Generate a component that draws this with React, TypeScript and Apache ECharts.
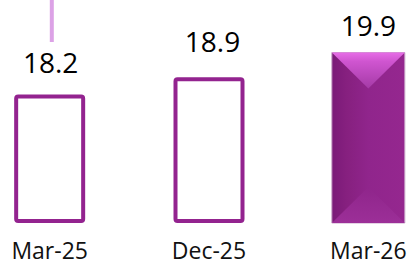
import React, { useEffect, useRef } from "react";
import * as echarts from "echarts";

const categories = ["Mar-25", "Dec-25", "Mar-26"];
const values = [18.2, 18.9, 19.9];
const labels = ["18.2", "18.9", "19.9"];

// styling only
const labelLift = [33, 36, 28];
const labelShiftX = [1, 3.5, 0];
const filledIndex = 2;
const OFFSET_X = -30.1;
const CHART_W = 477.75;

export default function App() {
  const ref = useRef<HTMLDivElement>(null);
  useEffect(() => {
    if (!ref.current) return;
    const chart = echarts.init(ref.current, null, { renderer: "svg" });
    const yMin = 13;
    chart.setOption({
      animation: false,
      backgroundColor: "#ffffff",
      grid: { left: 0, right: 0, top: 0, bottom: 40, containLabel: false },
      xAxis: {
        type: "category",
        data: categories,
        axisLine: { show: false },
        axisTick: { show: false },
        axisLabel: {
          color: "#111111",
          fontSize: 23,
          fontFamily: "Open Sans",
          margin: 15,
        },
      },
      yAxis: {
        type: "value",
        min: yMin,
        max: 22.03,
        show: false,
        splitLine: { show: false },
      },
      graphic: [
        {
          type: "line",
          shape: { x1: 51.7 - OFFSET_X, y1: 0, x2: 51.7 - OFFSET_X, y2: 42 },
          style: { stroke: "#dca2e6", lineWidth: 4 },
        },
      ],
      series: [
        {
          type: "custom",
          data: values.map((v, i) => [i, v]),
          renderItem: (params: any, api: any) => {
            const i = params.dataIndex;
            const top = api.coord([api.value(0), api.value(1)]);
            const base = api.coord([api.value(0), yMin]);
            const cx = top[0];
            const ty = top[1];
            const by = base[1];
            const children: any[] = [];
            if (i === filledIndex) {
              const w = 73;
              const x0 = cx - w / 2;
              const x1 = cx + w / 2;
              const h = by - ty;
              const bev = 36;
              children.push({
                type: "rect",
                shape: { x: x0, y: ty, width: w, height: h },
                style: {
                  fill: new echarts.graphic.LinearGradient(0, 0, 1, 0, [
                    { offset: 0, color: "#7a1a78" },
                    { offset: 0.2, color: "#86207f" },
                    { offset: 0.5, color: "#90258c" },
                    { offset: 1, color: "#95278f" },
                  ]),
                  stroke: "#c9a6c9",
                  lineWidth: 1,
                },
              });
              children.push({
                type: "polygon",
                shape: { points: [[x0, ty], [x1, ty], [cx, ty + bev]] },
                style: {
                  fill: new echarts.graphic.LinearGradient(0, 0, 0, 1, [
                    { offset: 0, color: "#e66de6" },
                    { offset: 0.25, color: "#cf55d0" },
                    { offset: 1, color: "#a43aa6" },
                  ]),
                },
              });
              children.push({
                type: "polygon",
                shape: { points: [[x0, by], [x1, by], [cx, by - bev]] },
                style: {
                  fill: new echarts.graphic.LinearGradient(0, 0, 0, 1, [
                    { offset: 0, color: "#8f258b" },
                    { offset: 1, color: "#9c2f98" },
                  ]),
                },
              });
            } else {
              const w = 71;
              const lw = 4;
              children.push({
                type: "rect",
                shape: {
                  x: cx - w / 2 + lw / 2,
                  y: ty + lw / 2,
                  width: w - lw,
                  height: by - ty - lw,
                  r: 2,
                },
                style: { fill: "#ffffff", stroke: "#93238f", lineWidth: lw },
              });
            }
            children.push({
              type: "text",
              style: {
                text: labels[i],
                x: cx + labelShiftX[i],
                y: ty - labelLift[i],
                align: "center",
                verticalAlign: "middle",
                fill: "#000000",
                font: "28px 'Open Sans'",
              },
            });
            return { type: "group", children };
          },
        },
      ],
    });
    return () => chart.dispose();
  }, []);
  return (
    <div
      ref={ref}
      style={{ position: "fixed", left: OFFSET_X, top: 0, width: CHART_W, height: 263 }}
    />
  );
}
